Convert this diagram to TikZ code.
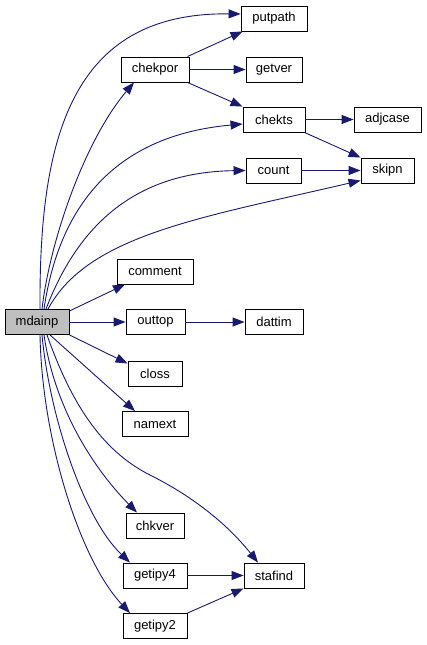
\documentclass[tikz,border=0pt]{standalone}
\usepackage{fontspec}
\setmainfont{Liberation Sans}
\usetikzlibrary{arrows.meta}
\definecolor{edgec}{HTML}{191970}
\definecolor{rootfill}{HTML}{BFBFBF}
\begin{document}
\begin{tikzpicture}[x=1pt,y=-1pt,
  box/.style={draw=black,line width=0.9pt,fill=white,minimum height=25pt,inner sep=0pt,
    font=\fontsize{13}{15}\selectfont,anchor=center},
  edge/.style={draw=edgec,line width=0.9pt,-{Triangle[length=12pt,width=9pt]}}]
\useasboundingbox (0,0) rectangle (427,645);
% nodes
\node[box,fill=rootfill,minimum width=64pt] (mdainp) at (37,322) {mdainp};
\node[box,minimum width=66pt] (putpath) at (274,18.5) {putpath};
\node[box,minimum width=56pt] (getver) at (274,69.5) {getver};
\node[box,minimum width=62pt] (chekts) at (274,119.5) {chekts};
\node[box,minimum width=67pt] (adjcase) at (387.5,119.5) {adjcase};
\node[box,minimum width=55pt] (count) at (273.5,170.5) {count};
\node[box,minimum width=53pt] (skipn) at (387.5,170.5) {skipn};
\node[box,minimum width=68pt] (chekpor) at (155,69.5) {chekpor};
\node[box,minimum width=76pt] (comment) at (155,271.5) {comment};
\node[box,minimum width=59pt] (outtop) at (155.5,322) {outtop};
\node[box,minimum width=58pt] (dattim) at (274,322) {dattim};
\node[box,minimum width=54pt] (closs) at (155,373.5) {closs};
\node[box,minimum width=66pt] (namext) at (155,424) {namext};
\node[box,minimum width=58pt] (chkver) at (155,525.5) {chkver};
\node[box,minimum width=64pt] (getipy4) at (155,575.5) {getipy4};
\node[box,minimum width=64pt] (getipy2) at (155,626) {getipy2};
\node[box,minimum width=60pt] (stafind) at (274,575.5) {stafind};
% edges from mdainp, upward
\draw[edge] ([xshift=3pt]mdainp.north) .. controls (39,140) and (70,12) .. ([yshift=4.5pt]putpath.west);
\draw[edge] ([xshift=5pt]mdainp.north) .. controls (50,240) and (85,140) .. ([xshift=-21pt]chekpor.south);
\draw[edge] ([xshift=7pt]mdainp.north) .. controls (60,200) and (120,135) .. ([yshift=-4.5pt]chekts.west);
\draw[edge] ([xshift=9pt]mdainp.north) .. controls (80,220) and (140,172) .. (count.west);
\draw[edge] ([xshift=11pt]mdainp.north) .. controls (88,235) and (200,218) .. ([yshift=-10pt]skipn.west);
% straight edges from mdainp
\draw[edge] ([yshift=11pt]mdainp.east) -- ([xshift=-30pt]comment.south);
\draw[edge] (mdainp.east) -- (outtop.west);
\draw[edge] (mdainp.south east) -- ([yshift=10pt]closs.west);
\draw[edge] ([xshift=13pt]mdainp.south) -- ([xshift=-20pt]namext.north);
% downward curves
\draw[edge] ([xshift=10pt]mdainp.south) .. controls (70,400) and (100,450) .. (150,475)
  .. controls (200,500) and (232,530) .. ([xshift=-16pt]stafind.north);
\draw[edge] ([xshift=7pt]mdainp.south) .. controls (55,410) and (95,470) .. ([xshift=-18pt]chkver.north);
\draw[edge] ([xshift=5pt]mdainp.south) .. controls (50,420) and (85,520) .. ([xshift=-25pt]getipy4.north);
\draw[edge] ([xshift=3pt]mdainp.south) .. controls (42,440) and (80,560) .. ([xshift=-25pt]getipy2.north);
% other edges
\draw[edge] ([xshift=-2pt]chekpor.north east) -- ([xshift=2pt]putpath.south west);
\draw[edge] (chekpor.east) -- (getver.west);
\draw[edge] ([xshift=-2pt]chekpor.south east) -- (chekts.north west);
\draw[edge] (chekts.east) -- (adjcase.west);
\draw[edge] ([xshift=-1pt]chekts.south east) -- (skipn.north west);
\draw[edge] (count.east) -- (skipn.west);
\draw[edge] (outtop.east) -- (dattim.west);
\draw[edge] (getipy4.east) -- (stafind.west);
\draw[edge] (getipy2.north east) -- (stafind.south west);
\end{tikzpicture}
\end{document}
